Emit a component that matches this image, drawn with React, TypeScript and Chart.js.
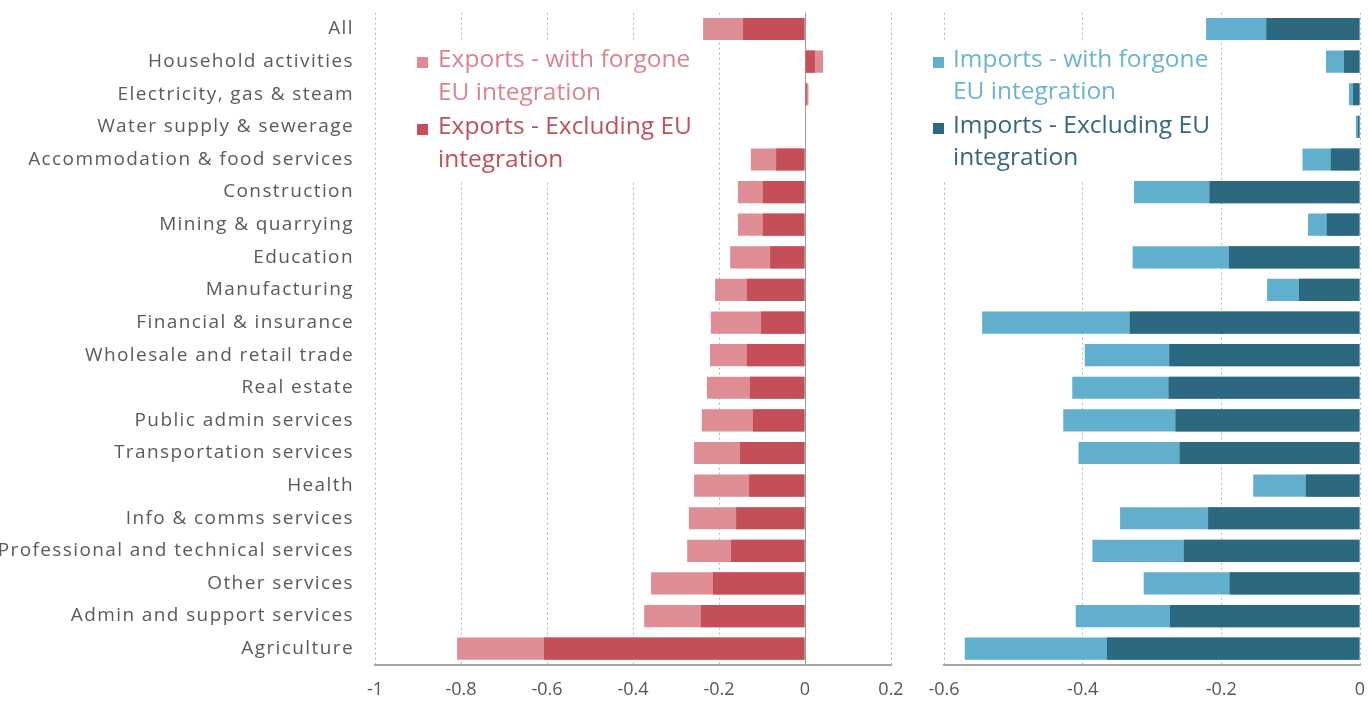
import React, { useEffect, useRef } from 'react';
import { Chart, registerables } from 'chart.js';

Chart.register(...registerables);

const categories = [
  'All',
  'Household activities',
  'Electricity, gas & steam',
  'Water supply & sewerage',
  'Accommodation & food services',
  'Construction',
  'Mining & quarrying',
  'Education',
  'Manufacturing',
  'Financial & insurance',
  'Wholesale and retail trade',
  'Real estate',
  'Public admin services',
  'Transportation services',
  'Health',
  'Info & comms services',
  'Professional and technical services',
  'Other services',
  'Admin and support services',
  'Agriculture',
];

const exportsWithForgone = [
  -0.237, 0.042, 0.008, 0, -0.126, -0.156, -0.156, -0.174, -0.209, -0.219,
  -0.221, -0.228, -0.24, -0.258, -0.258, -0.27, -0.274, -0.358, -0.374, -0.809,
];
const exportsExcluding = [
  -0.144, 0.023, 0.004, 0, -0.067, -0.098, -0.098, -0.081, -0.135, -0.102,
  -0.135, -0.128, -0.121, -0.151, -0.13, -0.16, -0.172, -0.214, -0.242, -0.607,
];
const importsWithForgone = [
  -0.222, -0.049, -0.016, -0.006, -0.083, -0.326, -0.075, -0.328, -0.134, -0.545,
  -0.397, -0.415, -0.428, -0.406, -0.154, -0.346, -0.386, -0.312, -0.41, -0.57,
];
const importsExcluding = [
  -0.135, -0.023, -0.01, -0.003, -0.042, -0.217, -0.048, -0.189, -0.088, -0.332,
  -0.275, -0.276, -0.266, -0.26, -0.078, -0.219, -0.254, -0.188, -0.274, -0.365,
];

const exportTicks = [-1, -0.8, -0.6, -0.4, -0.2, 0, 0.2];
const importTicks = [-0.6, -0.4, -0.2, 0];

const exportsWithLabel = 'Exports - with forgone EU integration';
const exportsExclLabel = 'Exports - Excluding EU integration';
const importsWithLabel = 'Imports - with forgone EU integration';
const importsExclLabel = 'Imports - Excluding EU integration';

const FONT = '"Open Sans", sans-serif';

function wrapText(ctx: CanvasRenderingContext2D, text: string, maxWidth: number): string[] {
  const words = text.split(' ');
  const lines: string[] = [];
  let cur = '';
  words.forEach((w) => {
    const test = cur ? cur + ' ' + w : w;
    if (cur && ctx.measureText(test).width > maxWidth) {
      lines.push(cur);
      cur = w;
    } else {
      cur = test;
    }
  });
  if (cur) lines.push(cur);
  return lines;
}

const boxLegend = {
  id: 'boxLegend',
  beforeDatasetsDraw(chart: any, _args: any, opts: any) {
    const ctx: CanvasRenderingContext2D = chart.ctx;
    ctx.save();
    (ctx as any).letterSpacing = '0px';
    ctx.fillStyle = '#ffffff';
    ctx.fillRect(opts.boxX, opts.boxY, opts.boxW, opts.boxH);
    ctx.font = `${opts.fontSize}px ${FONT}`;
    ctx.textBaseline = 'alphabetic';
    ctx.textAlign = 'left';
    let base = opts.firstBaseline;
    const colors: string[] = opts.textColors || [];
    chart.data.datasets.forEach((ds: any, k: number) => {
      const lines = wrapText(ctx, ds.label, opts.maxWidth);
      ctx.fillStyle = ds.backgroundColor;
      ctx.fillRect(opts.markerX, base - opts.markerSize + 1, opts.markerSize, opts.markerSize);
      ctx.fillStyle = colors[k] || ds.backgroundColor;
      lines.forEach((ln: string, j: number) => {
        ctx.fillText(ln, opts.textX, base + j * opts.lineHeight);
      });
      base += lines.length * opts.lineHeight + opts.itemGap;
    });
    ctx.restore();
  },
};

const labelSpacing = {
  id: 'labelSpacing',
  beforeDraw(chart: any) {
    chart.ctx.letterSpacing = '0px';
  },
  afterDatasetsDraw(chart: any, _a: any, opts: any) {
    chart.ctx.letterSpacing = (opts && opts.spacing) || '0px';
  },
  afterDraw(chart: any) {
    chart.ctx.letterSpacing = '0px';
  },
};

function fmt(v: number) {
  return String(Math.round(v * 10) / 10);
}

function buildConfig(args: {
  withVals: number[];
  exclVals: number[];
  withLabel: string;
  exclLabel: string;
  lightColor: string;
  darkColor: string;
  textColors: string[];
  min: number;
  max: number;
  ticks: number[];
  showY: boolean;
  solidZero: boolean;
  padding: { left: number; right: number; top: number; bottom: number };
  legend: any;
}): any {
  return {
    type: 'bar',
    data: {
      labels: categories,
      datasets: [
        {
          label: args.withLabel,
          data: args.withVals,
          backgroundColor: args.lightColor,
          order: 2,
          grouped: false,
          barPercentage: 0.68,
          categoryPercentage: 1,
        },
        {
          label: args.exclLabel,
          data: args.exclVals,
          backgroundColor: args.darkColor,
          order: 1,
          grouped: false,
          barPercentage: 0.68,
          categoryPercentage: 1,
        },
      ],
    },
    options: {
      indexAxis: 'y',
      responsive: false,
      animation: false,
      devicePixelRatio: 1,
      layout: { padding: args.padding },
      plugins: {
        legend: { display: false },
        tooltip: { enabled: false },
        boxLegend: { ...args.legend, textColors: args.textColors },
        labelSpacing: { spacing: '1.4px' },
      },
      scales: {
        x: {
          type: 'linear',
          min: args.min,
          max: args.max,
          afterBuildTicks: (scale: any) => {
            scale.ticks = args.ticks.map((v) => ({ value: v }));
          },
          afterFit: (scale: any) => {
            scale.height = 42;
            scale.paddingLeft = 0;
            scale.paddingRight = 0;
          },
          grid: {
            drawTicks: false,
            lineWidth: 1,
            color: (c: any) =>
              args.solidZero && c.tick && c.tick.value === 0 ? '#9a9a9a' : '#b4b4b4',
          },
          border: {
            display: true,
            color: '#a6a6a6',
            width: 2,
            dash: (c: any) =>
              args.solidZero && c.tick && c.tick.value === 0 ? [] : [2, 3],
          },
          ticks: {
            padding: 14,
            color: '#555555',
            font: { family: FONT, size: 18 },
            callback: (v: any) => fmt(Number(v)),
            maxRotation: 0,
            autoSkip: false,
          },
        },
        y: {
          type: 'category',
          display: args.showY,
          afterFit: (scale: any) => {
            if (args.showY) scale.width = 375;
            scale.paddingTop = 0;
            scale.paddingBottom = 0;
          },
          grid: { display: false, drawTicks: false },
          border: { display: false },
          ticks: {
            z: 1,
            padding: 21,
            color: '#5a5a5a',
            font: { family: FONT, size: 19 },
            autoSkip: false,
          },
        },
      },
    },
    plugins: [boxLegend, labelSpacing],
  };
}

export default function App() {
  const leftRef = useRef<HTMLCanvasElement>(null);
  const rightRef = useRef<HTMLCanvasElement>(null);

  useEffect(() => {
    const left = new Chart(
      leftRef.current as HTMLCanvasElement,
      buildConfig({
        withVals: exportsWithForgone,
        exclVals: exportsExcluding,
        withLabel: exportsWithLabel,
        exclLabel: exportsExclLabel,
        lightColor: '#de8d94',
        darkColor: '#c44f59',
        textColors: ['#dc838d', '#bf4f5a'],
        min: -1,
        max: 0.2,
        ticks: exportTicks,
        showY: true,
        solidZero: true,
        padding: { left: 0, right: 19, top: 12.7, bottom: 0 },
        legend: {
          boxX: 398,
          boxY: 43,
          boxW: 307,
          boxH: 139,
          markerX: 417,
          markerSize: 11,
          textX: 438,
          firstBaseline: 67,
          lineHeight: 33,
          itemGap: 1,
          fontSize: 24.5,
          maxWidth: 270,
        },
      })
    );
    const right = new Chart(
      rightRef.current as HTMLCanvasElement,
      buildConfig({
        withVals: importsWithForgone,
        exclVals: importsExcluding,
        withLabel: importsWithLabel,
        exclLabel: importsExclLabel,
        lightColor: '#62afcd',
        darkColor: '#2c6880',
        textColors: ['#6cb4d2', '#33677b'],
        min: -0.6,
        max: 0,
        ticks: importTicks,
        showY: false,
        solidZero: false,
        padding: { left: 34, right: 8, top: 12.7, bottom: 0 },
        legend: {
          boxX: 15,
          boxY: 43,
          boxW: 287,
          boxH: 139,
          markerX: 23,
          markerSize: 11,
          textX: 43,
          firstBaseline: 67,
          lineHeight: 32,
          itemGap: 2,
          fontSize: 24.5,
          maxWidth: 270,
        },
      })
    );
    return () => {
      left.destroy();
      right.destroy();
    };
  }, []);

  return (
    <div
      style={{
        position: 'absolute',
        left: 0,
        top: 0,
        width: 1368,
        height: 707,
        background: '#ffffff',
        overflow: 'hidden',
      }}
    >
      <canvas
        ref={leftRef}
        width={910}
        height={707}
        style={{ position: 'absolute', left: 0, top: 0, width: 910, height: 707 }}
      />
      <canvas
        ref={rightRef}
        width={458}
        height={707}
        style={{ position: 'absolute', left: 910, top: 0, width: 458, height: 707 }}
      />
    </div>
  );
}
